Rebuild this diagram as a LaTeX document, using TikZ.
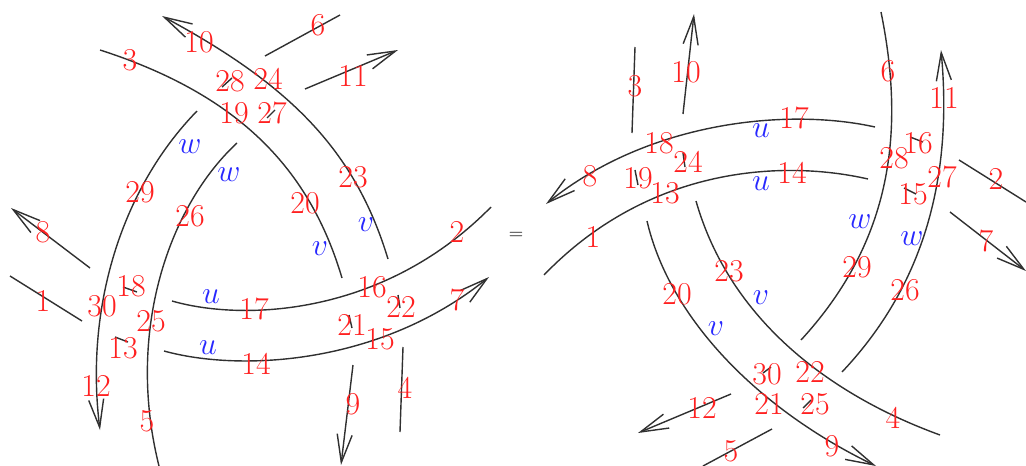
\documentclass[tikz,border=0pt]{standalone}
\usepackage{xcolor}
\usepackage{tikz}
\usetikzlibrary{arrows.meta}
\definecolor{strandgray}{HTML}{303030}
\definecolor{numred}{HTML}{FF2020}
\definecolor{varblue}{HTML}{2828FF}
\tikzset{
  strand/.style={line width=1.4pt, color=strandgray},
  strandarrow/.style={strand, -{Straight Barb[length=28pt,width=15pt]}},
  numlabel/.style={inner sep=0pt, text=numred, scale=1.28, font=\fontsize{24.88}{26}\selectfont},
  varlabel/.style={inner sep=0pt, text=varblue, scale=1.28, font=\fontsize{24.88}{26}\selectfont},
}

\begin{document}
\begin{tikzpicture}[x=1pt,y=-1pt]
  \useasboundingbox (0,0) rectangle (1026,466);
  % left side
  \draw[strandarrow] (90,268) -- (11,208);
  \draw[strand] (10,276) -- (82,321);
  \draw[strand] (100,50) .. controls (240,95) and (310,170) .. (342,278);
  \draw[strandarrow] (388,259) .. controls (355,150) and (290,85) .. (162,16);
  \draw[strand] (265,56) -- (340,15);
  \draw[strandarrow] (305,89) -- (398,50);
  \draw[strand] (172,301) .. controls (245,322) and (385,315) .. (491,207);
  \draw[strandarrow] (164,351) .. controls (240,372) and (380,365) .. (489,277);
  \draw[strand] (403,347) -- (400,432);
  \draw[strandarrow] (353,365) -- (341,465);
  \draw[strandarrow] (197,111) .. controls (120,190) and (85,310) .. (100,430);
  \draw[strand] (237,143) .. controls (170,205) and (125,330) .. (159,466);
  \foreach \xa/\ya/\xb/\yb in {222/87/232/78,267/118/275/110,123/287/137/292,115/337/128/342,349/315/352/328,398/295/400/308}
    \draw[strand] (\xa,\ya) -- (\xb,\yb);
  % right side
  \draw[strand] (635,47) -- (632,133);
  \draw[strandarrow] (683,114) -- (694,14);
  \draw[strand] (881,12) .. controls (905,130) and (893,240) .. (801,340);
  \draw[strandarrow] (842,372) .. controls (910,300) and (955,200) .. (941,50);
  \draw[strandarrow] (875,127) .. controls (790,108) and (650,120) .. (546,204);
  \draw[strand] (868,179) .. controls (785,160) and (650,165) .. (544,275);
  \draw[strandarrow] (647,221) .. controls (670,320) and (760,410) .. (876,466);
  \draw[strand] (696,201) .. controls (730,320) and (830,395) .. (940,435);
  \draw[strandarrow] (731,394) -- (638,433);
  \draw[strand] (772,429) -- (703,466);
  \draw[strandarrow] (950,212) -- (1026,271);
  \draw[strand] (959,160) -- (1026,202);
  \foreach \xa/\ya/\xb/\yb in {910/137/923/142,904/188/916/194,635/170/638/185,683/153/685/167,763/373/771/367,803/408/811/400}
    \draw[strand] (\xa,\ya) -- (\xb,\yb);
  % numbers
  \foreach \x/\y/\n in {43/301/1,457/232/2,130/60/3,405/388/4,147/421/5,318/25/6,457/300/7,43/232/8,353/404/9,199/42/10,353/76/11,96/386/12,123/348/13,256/364/14,380/339/15,372/287/16,254/309/17,131/286/18,234/113/19,305/203/20,352/325/21,401/307/22,353/177/23,268/79/24,151/321/25,190/216/26,272/113/27,230/81/28,140/192/29,102/306/30}
    \node[numlabel] (l\n) at (\x,\y) {\n};
  \foreach \x/\y/\n in {593/237/1,996/179/2,635/86/3,893/418/4,731/451/5,888/71/6,986/241/7,590/176/8,832/446/9,686/72/10,944/98/11,702/408/12,665/193/13,792/173/14,913/194/15,918/143/16,794/118/17,659/143/18,638/178/19,677/294/20,769/404/21,810/372/22,729/271/23,688/162/24,815/404/25,905/290/26,942/177/27,894/158/28,857/267/29,767/374/30}
    \node[numlabel] (r\n) at (\x,\y) {\n};
  % letters
  \foreach \x/\y/\t/\n in {190/147/w/a,229/175/w/b,320/249/v/c,366/225/v/d,211/297/u/e,208/348/u/f,761/131/u/g,761/184/u/h,860/222/w/i,912/239/w/j,761/298/v/k,716/329/v/m}
    \node[varlabel] (var\n) at (\x,\y) {$\t$};
  \node[inner sep=0pt, font=\fontsize{20}{22}\selectfont] (eq) at (516,236) {=};
\end{tikzpicture}
\end{document}
